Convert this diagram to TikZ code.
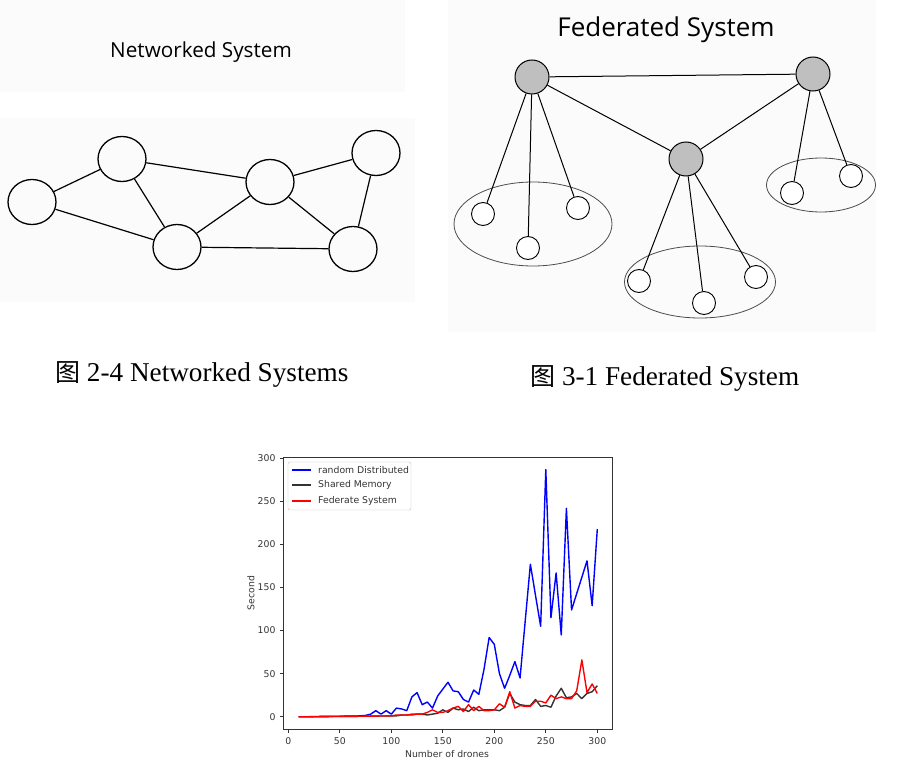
\documentclass[tikz,border=0pt]{standalone}
\usepackage{fontspec}
\setmainfont{Liberation Serif}
\newfontfamily\titlefont{Open Sans}
\newfontfamily\plotfont{DejaVu Sans}
\newfontfamily\cjkfont{Noto Sans CJK SC}
\usetikzlibrary{shapes.geometric}

\definecolor{panelbg}{HTML}{FBFBFB}
\definecolor{hubgray}{HTML}{BFBFBF}
\definecolor{ticktext}{HTML}{333333}

\tikzset{
    netnode/.style={draw, ellipse, line width=1.3pt, minimum width=48pt, minimum height=45pt, inner sep=0pt},
    hubnode/.style={draw, circle, fill=hubgray, line width=1pt, minimum size=34pt, inner sep=0pt},
    leafnode/.style={draw, circle, fill=white, line width=0.9pt, minimum size=23pt, inner sep=0pt},
    cluster/.style={draw=black!70, line width=0.8pt, ellipse, inner sep=0pt},
    caption/.style={font=\fontsize{27.2}{30}\selectfont, inner sep=0pt},
    datacurve/.style={line width=1.4pt, line join=round},
    tickmark/.style={font=\plotfont\fontsize{9.3}{11}\selectfont, text=ticktext}
}

\begin{document}
\begin{tikzpicture}[x=1pt, y=-1pt]
    \useasboundingbox (0,0) rectangle (924,776);
    \fill[panelbg] (0,0) rectangle (405,92);
    \fill[panelbg] (0,118) rectangle (415,302);
    \fill[panelbg] (448,0) rectangle (876,332);

    \node[font=\titlefont\fontsize{20.7}{24}\selectfont] (nettitle) at (201,52) {Networked System};
    \begin{scope}[every node/.style={netnode}]
        \node (n1) at (32,202) {};
        \node (n2) at (122,159) {};
        \node (n3) at (177,247) {};
        \node (n4) at (270,182) {};
        \node (n5) at (376,153) {};
        \node (n6) at (353,249) {};
    \end{scope}
    \begin{scope}[line width=1.2pt]
        \path (n1) edge (n2);
        \path (n1) edge (n3);
        \path (n2) edge (n3);
        \path (n2) edge (n4);
        \path (n3) edge (n4);
        \path (n3) edge (n6);
        \path (n4) edge (n5);
        \path (n4) edge (n6);
        \path (n5) edge (n6);
    \end{scope}

    \node[font=\titlefont\fontsize{26}{30}\selectfont] (fedtitle) at (666,30) {Federated System};
    \node[cluster, minimum width=158pt, minimum height=84pt] (c1) at (533,224) {};
    \node[cluster, minimum width=151pt, minimum height=72pt] (c2) at (700,282) {};
    \node[cluster, minimum width=109pt, minimum height=54pt] (c3) at (821,185) {};
    \begin{scope}[every node/.style={hubnode}]
        \node (ha) at (532,77) {};
        \node (hb) at (813,74) {};
        \node (hc) at (686,159) {};
    \end{scope}
    \begin{scope}[every node/.style={leafnode}]
        \node (a1) at (483,214) {};
        \node (a2) at (528,248) {};
        \node (a3) at (578,208) {};
        \node (c1l) at (639,281) {};
        \node (c2l) at (704,303) {};
        \node (c3l) at (756,277) {};
        \node (b1) at (792,193) {};
        \node (b2) at (851,176) {};
    \end{scope}
    \begin{scope}[line width=1pt]
        \path (ha) edge (hb);
        \path (ha) edge (hc);
        \path (hb) edge (hc);
        \path (ha) edge (a1);
        \path (ha) edge (a2);
        \path (ha) edge (a3);
        \path (hc) edge (c1l);
        \path (hc) edge (c2l);
        \path (hc) edge (c3l);
        \path (hb) edge (b1);
        \path (hb) edge (b2);
    \end{scope}

    \node[caption, anchor=west] (cap1) at (55,374) {{\cjkfont\fontsize{25}{28}\selectfont 图} 2-4 Networked Systems};
    \node[caption, anchor=west] (cap2) at (530,378) {{\cjkfont\fontsize{25}{28}\selectfont 图} 3-1 Federated System};

    \begin{scope}[shift={(288.3,716.7)}, x=1.03pt, y=0.861pt]
        \draw[datacurve, blue] plot coordinates {(10,0) (15,0) (20,0) (25,0.2) (30,0.3) (35,0.3) (40,0.4) (45,0.5) (50,0.5) (55,0.6) (60,0.8) (65,0.7) (70,1) (75,1.5) (80,3) (85,7) (90,3) (95,7) (100,3) (105,10) (110,9) (115,7) (120,23) (125,28) (130,14) (135,17) (140,10) (145,24) (150,32) (155,40) (160,30) (165,29) (170,20) (175,17) (180,31) (185,26) (190,55) (195,92) (200,84) (205,50) (210,33) (215,48) (220,64) (225,45) (230,111) (235,177) (240,141) (245,105) (250,287) (255,115) (260,167) (265,95) (270,242) (275,124) (280,143) (285,162) (290,181) (295,129) (300,218)};
        \draw[datacurve, black!80] plot coordinates {(10,0) (20,0) (30,0) (40,0.2) (50,0.3) (60,0.4) (70,0.5) (80,0.6) (90,0.8) (100,1) (105,1) (110,2) (115,2) (120,2) (125,3) (130,3) (135,2) (140,3) (145,4) (150,8) (155,5) (160,10) (165,8) (170,9) (175,6) (180,11) (185,7) (190,8) (195,8) (200,8) (205,7) (210,11) (215,27) (220,17) (225,14) (230,13) (235,13) (240,20) (245,12) (250,13) (255,11) (260,24) (265,33) (270,22) (275,23) (280,27) (285,21) (290,27) (295,29) (300,36)};
        \draw[datacurve, red] plot coordinates {(10,0) (20,0) (30,0) (40,0.2) (50,0.3) (60,0.4) (70,0.5) (80,0.7) (90,0.8) (100,1) (105,2) (110,2) (115,2) (120,3) (125,3) (130,3) (135,5) (140,8) (145,5) (150,5) (155,7) (160,10) (165,12) (170,6) (175,14) (180,7) (185,12) (190,7) (195,7) (200,8) (205,15) (210,11) (215,29) (220,10) (225,13) (230,12) (235,12) (240,18) (245,18) (250,16) (255,25) (260,21) (265,23) (270,21) (275,21) (280,30) (285,66) (290,28) (295,38) (300,27)};
        \draw[black!80, line width=0.9pt] (-4.5,-14.35) rectangle (314.5,301.4);
        \foreach \t in {0,50,...,300} {
            \draw[black!80, line width=0.8pt] (\t,-14.35) -- ++(0,-4.1);
            \node[tickmark, anchor=north] at (\t,-20) {\t};
            \draw[black!80, line width=0.8pt] (-4.5,\t) -- ++(-3.4,0);
            \node[tickmark, anchor=east] at (-9,\t) {\t};
        }
    \end{scope}
    \node[tickmark, rotate=90] (ylab) at (251,593) {Second};
    \node[tickmark] (xlab) at (447,754) {Number of drones};

    \draw[black!25, fill=white, rounded corners=2pt] (288,462) rectangle (411,510);
    \begin{scope}[every node/.style={tickmark, anchor=west, inner sep=0pt}]
        \draw[datacurve, blue] (292,470) -- (311,470);
        \node (lg1) at (318,470) {random Distributed};
        \draw[datacurve, black!80] (292,485) -- (311,485);
        \node (lg2) at (318,485) {Shared Memory};
        \draw[datacurve, red] (292,501) -- (311,501);
        \node (lg3) at (318,501) {Federate System};
    \end{scope}
\end{tikzpicture}
\end{document}
